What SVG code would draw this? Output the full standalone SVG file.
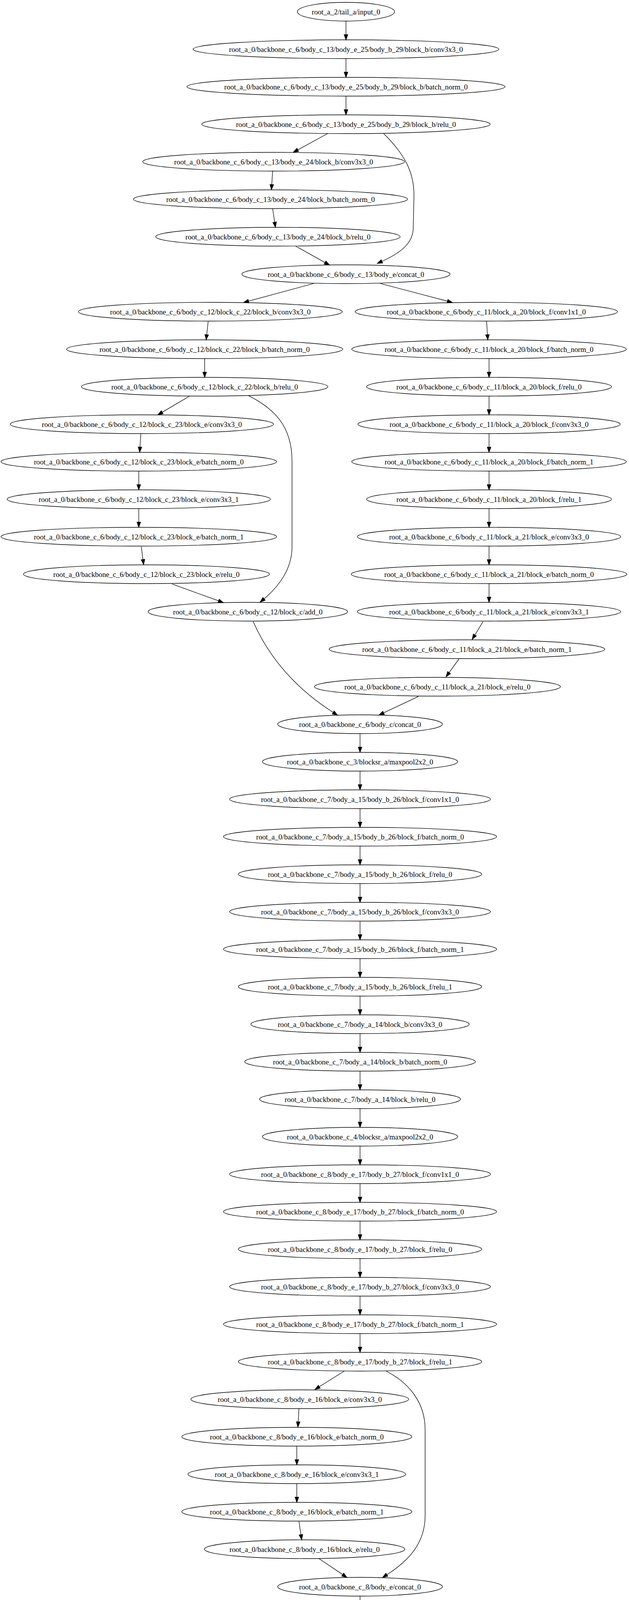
<svg xmlns="http://www.w3.org/2000/svg" width="1609" height="5147" viewBox="0 0 1609 5147">
<style>
.n ellipse{fill:none;stroke:#000;stroke-width:1.33}
.n text{font-family:"Liberation Serif","Times New Roman",serif;font-size:18.67px;text-anchor:middle;fill:#000}
.e path{fill:none;stroke:#000;stroke-width:1.33}
</style>
<defs>
<marker id="a" markerUnits="userSpaceOnUse" markerWidth="16" markerHeight="12" refX="0" refY="4.67" orient="auto" overflow="visible">
<path d="M0,0 L13.3,4.67 L0,9.33 Z" fill="#000" stroke="#000" stroke-width="1.33"/>
</marker>
</defs>
<rect width="1609" height="5147" fill="#fff"/>
<g id="edges" class="e">
<path d="M885,54 L885,88.7" marker-end="url(#a)"/>
<path d="M885,150 L885,184.7" marker-end="url(#a)"/>
<path d="M885,246 L885,280.7" marker-end="url(#a)"/>
<path d="M838,342 L761.7,383.6" marker-end="url(#a)"/>
<path d="M981.5,342 C1035,395 1059,440 1059,500 L1057,585 C1056,620 1030,645 977,669" marker-end="url(#a)"/>
<path d="M697.4,437 L695.2,472.4" marker-end="url(#a)"/>
<path d="M697.4,534 L702.6,568.8" marker-end="url(#a)"/>
<path d="M756,630 L831.4,672.1" marker-end="url(#a)"/>
<path d="M802.5,725.7 L635.7,770.9" marker-end="url(#a)"/>
<path d="M972.8,725.7 L1144.6,771" marker-end="url(#a)"/>
<path d="M532.6,822.2 L528.8,856.8" marker-end="url(#a)"/>
<path d="M1244.7,822.2 L1246.9,856.7" marker-end="url(#a)"/>
<path d="M523.5,918 L523.5,952.7" marker-end="url(#a)"/>
<path d="M1251,918 L1251,952.7" marker-end="url(#a)"/>
<path d="M484.4,1014.3 L414.9,1055.4" marker-end="url(#a)"/>
<path d="M635.2,1012.7 C700,1045 747,1090 747,1180 L747,1400 C747,1455 715,1500 675.5,1533" marker-end="url(#a)"/>
<path d="M360.3,1110.8 L358.1,1144.5" marker-end="url(#a)"/>
<path d="M1251,1014 L1251,1048.7" marker-end="url(#a)"/>
<path d="M1251,1110 L1251,1144.7" marker-end="url(#a)"/>
<path d="M355,1206 L355,1240.7" marker-end="url(#a)"/>
<path d="M1251,1206 L1251,1240.7" marker-end="url(#a)"/>
<path d="M355,1302 L355,1336.7" marker-end="url(#a)"/>
<path d="M1251,1302 L1251,1336.7" marker-end="url(#a)"/>
<path d="M361.3,1399.4 L365.7,1432.4" marker-end="url(#a)"/>
<path d="M1251,1398 L1251,1432.7" marker-end="url(#a)"/>
<path d="M440.3,1495 L559.1,1538.2" marker-end="url(#a)"/>
<path d="M1251,1494 L1251,1528.7" marker-end="url(#a)"/>
<path d="M1235.5,1591.5 L1214.7,1625.6" marker-end="url(#a)"/>
<path d="M647.5,1591 C700,1710 787,1782 852.3,1823.8" marker-end="url(#a)"/>
<path d="M1174,1687 L1148.8,1721.8" marker-end="url(#a)"/>
<path d="M1070.3,1782.8 L981.3,1824.9" marker-end="url(#a)"/>
<path d="M921,1878 L921,1912.7" marker-end="url(#a)"/>
<path d="M921,1974 L921,2008.7" marker-end="url(#a)"/>
<path d="M921,2070 L921,2104.7" marker-end="url(#a)"/>
<path d="M921,2166 L921,2200.7" marker-end="url(#a)"/>
<path d="M921,2262 L921,2296.7" marker-end="url(#a)"/>
<path d="M921,2358 L921,2392.7" marker-end="url(#a)"/>
<path d="M921,2454 L921,2488.7" marker-end="url(#a)"/>
<path d="M921,2550 L921,2584.7" marker-end="url(#a)"/>
<path d="M921,2646 L921,2680.7" marker-end="url(#a)"/>
<path d="M921,2742 L921,2776.7" marker-end="url(#a)"/>
<path d="M921,2838 L921,2872.7" marker-end="url(#a)"/>
<path d="M921,2934 L921,2968.7" marker-end="url(#a)"/>
<path d="M921,3030 L921,3064.7" marker-end="url(#a)"/>
<path d="M921,3126 L921,3160.7" marker-end="url(#a)"/>
<path d="M921,3222 L921,3256.7" marker-end="url(#a)"/>
<path d="M921,3318 L921,3352.7" marker-end="url(#a)"/>
<path d="M921,3414 L921,3448.7" marker-end="url(#a)"/>
<path d="M880.5,3510 L816.8,3550" marker-end="url(#a)"/>
<path d="M987.9,3510 C1046,3540 1087.5,3590 1087.5,3660 L1087.5,3880 C1087.5,3950 1046,3995 989.7,4031.3" marker-end="url(#a)"/>
<path d="M764.8,3605.5 L762.8,3639.9" marker-end="url(#a)"/>
<path d="M759.3,3702 L759.3,3736.7" marker-end="url(#a)"/>
<path d="M759.3,3798 L759.3,3832.7" marker-end="url(#a)"/>
<path d="M764.8,3895.2 L769.8,3928.8" marker-end="url(#a)"/>
<path d="M816,3990 L876.5,4030.9" marker-end="url(#a)"/>
<path d="M921,4086 L921,4120.7" marker-end="url(#a)"/>
<path d="M921,4182 L921,4216.7" marker-end="url(#a)"/>
<path d="M921,4278 L921,4312.7" marker-end="url(#a)"/>
<path d="M921,4374 L921,4408.7" marker-end="url(#a)"/>
<path d="M921,4470 L921,4504.7" marker-end="url(#a)"/>
<path d="M921,4566 L921,4600.7" marker-end="url(#a)"/>
<path d="M921,4662 L921,4696.7" marker-end="url(#a)"/>
<path d="M921,4758 L921,4792.7" marker-end="url(#a)"/>
<path d="M921,4854 L921,4888.7" marker-end="url(#a)"/>
<path d="M921,4950 L921,4984.7" marker-end="url(#a)"/>
<path d="M921,5046 L921,5080.7" marker-end="url(#a)"/>
</g>
<g id="n0" class="n"><ellipse cx="885" cy="30" rx="124.3" ry="24"/><text x="885" y="36.5">root_a_2/tail_a/input_0</text></g>
<g id="n1" class="n"><ellipse cx="885" cy="126" rx="391.1" ry="24"/><text x="885" y="132.5">root_a_0/backbone_c_6/body_c_13/body_e_25/body_b_29/block_b/conv3x3_0</text></g>
<g id="n2" class="n"><ellipse cx="885" cy="222" rx="406.8" ry="24"/><text x="885" y="228.5">root_a_0/backbone_c_6/body_c_13/body_e_25/body_b_29/block_b/batch_norm_0</text></g>
<g id="n3" class="n"><ellipse cx="885" cy="318" rx="368.9" ry="24"/><text x="885" y="324.5">root_a_0/backbone_c_6/body_c_13/body_e_25/body_b_29/block_b/relu_0</text></g>
<g id="n4" class="n"><ellipse cx="700" cy="414" rx="334.9" ry="24"/><text x="700" y="420.5">root_a_0/backbone_c_6/body_c_13/body_e_24/block_b/conv3x3_0</text></g>
<g id="n5" class="n"><ellipse cx="692" cy="510" rx="350.6" ry="24"/><text x="692" y="516.5">root_a_0/backbone_c_6/body_c_13/body_e_24/block_b/batch_norm_0</text></g>
<g id="n6" class="n"><ellipse cx="711" cy="606" rx="312.6" ry="24"/><text x="711" y="612.5">root_a_0/backbone_c_6/body_c_13/body_e_24/block_b/relu_0</text></g>
<g id="n7" class="n"><ellipse cx="885" cy="702" rx="266.2" ry="24"/><text x="885" y="708.5">root_a_0/backbone_c_6/body_c_13/body_e/concat_0</text></g>
<g id="n8" class="n"><ellipse cx="538" cy="798" rx="337.5" ry="24"/><text x="538" y="804.5">root_a_0/backbone_c_6/body_c_12/block_c_22/block_b/conv3x3_0</text></g>
<g id="n9" class="n"><ellipse cx="523.5" cy="894" rx="353.2" ry="24"/><text x="523.5" y="900.5">root_a_0/backbone_c_6/body_c_12/block_c_22/block_b/batch_norm_0</text></g>
<g id="n10" class="n"><ellipse cx="523.5" cy="990" rx="315.2" ry="24"/><text x="523.5" y="996.5">root_a_0/backbone_c_6/body_c_12/block_c_22/block_b/relu_0</text></g>
<g id="n11" class="n"><ellipse cx="363" cy="1086" rx="336.8" ry="24"/><text x="363" y="1092.5">root_a_0/backbone_c_6/body_c_12/block_c_23/block_e/conv3x3_0</text></g>
<g id="n12" class="n"><ellipse cx="355" cy="1182" rx="352.5" ry="24"/><text x="355" y="1188.5">root_a_0/backbone_c_6/body_c_12/block_c_23/block_e/batch_norm_0</text></g>
<g id="n13" class="n"><ellipse cx="355" cy="1278" rx="336.8" ry="24"/><text x="355" y="1284.5">root_a_0/backbone_c_6/body_c_12/block_c_23/block_e/conv3x3_1</text></g>
<g id="n14" class="n"><ellipse cx="355" cy="1374" rx="352.5" ry="24"/><text x="355" y="1380.5">root_a_0/backbone_c_6/body_c_12/block_c_23/block_e/batch_norm_1</text></g>
<g id="n15" class="n"><ellipse cx="374.6" cy="1470" rx="314.6" ry="24"/><text x="374.6" y="1476.5">root_a_0/backbone_c_6/body_c_12/block_c_23/block_e/relu_0</text></g>
<g id="n16" class="n"><ellipse cx="634" cy="1566" rx="255.1" ry="24"/><text x="634" y="1572.5">root_a_0/backbone_c_6/body_c_12/block_c/add_0</text></g>
<g id="n17" class="n"><ellipse cx="1244" cy="798" rx="335.5" ry="24"/><text x="1244" y="804.5">root_a_0/backbone_c_6/body_c_11/block_a_20/block_f/conv1x1_0</text></g>
<g id="n18" class="n"><ellipse cx="1251" cy="894" rx="351.2" ry="24"/><text x="1251" y="900.5">root_a_0/backbone_c_6/body_c_11/block_a_20/block_f/batch_norm_0</text></g>
<g id="n19" class="n"><ellipse cx="1251" cy="990" rx="313.3" ry="24"/><text x="1251" y="996.5">root_a_0/backbone_c_6/body_c_11/block_a_20/block_f/relu_0</text></g>
<g id="n20" class="n"><ellipse cx="1251" cy="1086" rx="335.5" ry="24"/><text x="1251" y="1092.5">root_a_0/backbone_c_6/body_c_11/block_a_20/block_f/conv3x3_0</text></g>
<g id="n21" class="n"><ellipse cx="1251" cy="1182" rx="351.2" ry="24"/><text x="1251" y="1188.5">root_a_0/backbone_c_6/body_c_11/block_a_20/block_f/batch_norm_1</text></g>
<g id="n22" class="n"><ellipse cx="1251" cy="1278" rx="313.3" ry="24"/><text x="1251" y="1284.5">root_a_0/backbone_c_6/body_c_11/block_a_20/block_f/relu_1</text></g>
<g id="n23" class="n"><ellipse cx="1251" cy="1374" rx="336.8" ry="24"/><text x="1251" y="1380.5">root_a_0/backbone_c_6/body_c_11/block_a_21/block_e/conv3x3_0</text></g>
<g id="n24" class="n"><ellipse cx="1251" cy="1470" rx="352.5" ry="24"/><text x="1251" y="1476.5">root_a_0/backbone_c_6/body_c_11/block_a_21/block_e/batch_norm_0</text></g>
<g id="n25" class="n"><ellipse cx="1251" cy="1566" rx="336.8" ry="24"/><text x="1251" y="1572.5">root_a_0/backbone_c_6/body_c_11/block_a_21/block_e/conv3x3_1</text></g>
<g id="n26" class="n"><ellipse cx="1194.5" cy="1662" rx="352.5" ry="24"/><text x="1194.5" y="1668.5">root_a_0/backbone_c_6/body_c_11/block_a_21/block_e/batch_norm_1</text></g>
<g id="n27" class="n"><ellipse cx="1119" cy="1758" rx="314.6" ry="24"/><text x="1119" y="1764.5">root_a_0/backbone_c_6/body_c_11/block_a_21/block_e/relu_0</text></g>
<g id="n28" class="n"><ellipse cx="921" cy="1854" rx="210.6" ry="24"/><text x="921" y="1860.5">root_a_0/backbone_c_6/body_c/concat_0</text></g>
<g id="n29" class="n"><ellipse cx="921" cy="1950" rx="249.8" ry="24"/><text x="921" y="1956.5">root_a_0/backbone_c_3/blocksr_a/maxpool2x2_0</text></g>
<g id="n30" class="n"><ellipse cx="921" cy="2046" rx="333.6" ry="24"/><text x="921" y="2052.5">root_a_0/backbone_c_7/body_a_15/body_b_26/block_f/conv1x1_0</text></g>
<g id="n31" class="n"><ellipse cx="921" cy="2142" rx="349.3" ry="24"/><text x="921" y="2148.5">root_a_0/backbone_c_7/body_a_15/body_b_26/block_f/batch_norm_0</text></g>
<g id="n32" class="n"><ellipse cx="921" cy="2238" rx="311.3" ry="24"/><text x="921" y="2244.5">root_a_0/backbone_c_7/body_a_15/body_b_26/block_f/relu_0</text></g>
<g id="n33" class="n"><ellipse cx="921" cy="2334" rx="333.6" ry="24"/><text x="921" y="2340.5">root_a_0/backbone_c_7/body_a_15/body_b_26/block_f/conv3x3_0</text></g>
<g id="n34" class="n"><ellipse cx="921" cy="2430" rx="349.3" ry="24"/><text x="921" y="2436.5">root_a_0/backbone_c_7/body_a_15/body_b_26/block_f/batch_norm_1</text></g>
<g id="n35" class="n"><ellipse cx="921" cy="2526" rx="311.3" ry="24"/><text x="921" y="2532.5">root_a_0/backbone_c_7/body_a_15/body_b_26/block_f/relu_1</text></g>
<g id="n36" class="n"><ellipse cx="921" cy="2622" rx="279.3" ry="24"/><text x="921" y="2628.5">root_a_0/backbone_c_7/body_a_14/block_b/conv3x3_0</text></g>
<g id="n37" class="n"><ellipse cx="921" cy="2718" rx="295" ry="24"/><text x="921" y="2724.5">root_a_0/backbone_c_7/body_a_14/block_b/batch_norm_0</text></g>
<g id="n38" class="n"><ellipse cx="921" cy="2814" rx="257" ry="24"/><text x="921" y="2820.5">root_a_0/backbone_c_7/body_a_14/block_b/relu_0</text></g>
<g id="n39" class="n"><ellipse cx="921" cy="2910" rx="249.8" ry="24"/><text x="921" y="2916.5">root_a_0/backbone_c_4/blocksr_a/maxpool2x2_0</text></g>
<g id="n40" class="n"><ellipse cx="921" cy="3006" rx="333.6" ry="24"/><text x="921" y="3012.5">root_a_0/backbone_c_8/body_e_17/body_b_27/block_f/conv1x1_0</text></g>
<g id="n41" class="n"><ellipse cx="921" cy="3102" rx="349.3" ry="24"/><text x="921" y="3108.5">root_a_0/backbone_c_8/body_e_17/body_b_27/block_f/batch_norm_0</text></g>
<g id="n42" class="n"><ellipse cx="921" cy="3198" rx="311.3" ry="24"/><text x="921" y="3204.5">root_a_0/backbone_c_8/body_e_17/body_b_27/block_f/relu_0</text></g>
<g id="n43" class="n"><ellipse cx="921" cy="3294" rx="333.6" ry="24"/><text x="921" y="3300.5">root_a_0/backbone_c_8/body_e_17/body_b_27/block_f/conv3x3_0</text></g>
<g id="n44" class="n"><ellipse cx="921" cy="3390" rx="349.3" ry="24"/><text x="921" y="3396.5">root_a_0/backbone_c_8/body_e_17/body_b_27/block_f/batch_norm_1</text></g>
<g id="n45" class="n"><ellipse cx="921" cy="3486" rx="311.3" ry="24"/><text x="921" y="3492.5">root_a_0/backbone_c_8/body_e_17/body_b_27/block_f/relu_1</text></g>
<g id="n46" class="n"><ellipse cx="766.9" cy="3582" rx="278.6" ry="24"/><text x="766.9" y="3588.5">root_a_0/backbone_c_8/body_e_16/block_e/conv3x3_0</text></g>
<g id="n47" class="n"><ellipse cx="759.3" cy="3678" rx="294.3" ry="24"/><text x="759.3" y="3684.5">root_a_0/backbone_c_8/body_e_16/block_e/batch_norm_0</text></g>
<g id="n48" class="n"><ellipse cx="759.3" cy="3774" rx="278.6" ry="24"/><text x="759.3" y="3780.5">root_a_0/backbone_c_8/body_e_16/block_e/conv3x3_1</text></g>
<g id="n49" class="n"><ellipse cx="759.3" cy="3870" rx="294.3" ry="24"/><text x="759.3" y="3876.5">root_a_0/backbone_c_8/body_e_16/block_e/batch_norm_1</text></g>
<g id="n50" class="n"><ellipse cx="779.2" cy="3966" rx="256.4" ry="24"/><text x="779.2" y="3972.5">root_a_0/backbone_c_8/body_e_16/block_e/relu_0</text></g>
<g id="n51" class="n"><ellipse cx="921" cy="4062" rx="210.6" ry="24"/><text x="921" y="4068.5">root_a_0/backbone_c_8/body_e/concat_0</text></g>
<g id="n52" class="n"><ellipse cx="921" cy="4158" rx="249.8" ry="24"/><text x="921" y="4164.5">root_a_0/backbone_c_5/blocksr_a/maxpool2x2_0</text></g>
<g id="n53" class="n"><ellipse cx="921" cy="4254" rx="335.5" ry="24"/><text x="921" y="4260.5">root_a_0/backbone_c_9/body_a_19/body_b_28/block_b/conv3x3_0</text></g>
<g id="n54" class="n"><ellipse cx="921" cy="4350" rx="351.2" ry="24"/><text x="921" y="4356.5">root_a_0/backbone_c_9/body_a_19/body_b_28/block_b/batch_norm_0</text></g>
<g id="n55" class="n"><ellipse cx="921" cy="4446" rx="313.3" ry="24"/><text x="921" y="4452.5">root_a_0/backbone_c_9/body_a_19/body_b_28/block_b/relu_0</text></g>
<g id="n56" class="n"><ellipse cx="921" cy="4542" rx="279.3" ry="24"/><text x="921" y="4548.5">root_a_0/backbone_c_9/body_a_18/block_b/conv3x3_0</text></g>
<g id="n57" class="n"><ellipse cx="921" cy="4638" rx="295" ry="24"/><text x="921" y="4644.5">root_a_0/backbone_c_9/body_a_18/block_b/batch_norm_0</text></g>
<g id="n58" class="n"><ellipse cx="921" cy="4734" rx="257" ry="24"/><text x="921" y="4740.5">root_a_0/backbone_c_9/body_a_18/block_b/relu_0</text></g>
<g id="n59" class="n"><ellipse cx="921" cy="4830" rx="228.2" ry="24"/><text x="921" y="4836.5">root_a_1/head_a_10/pool_b/globalavgpool_0</text></g>
<g id="n60" class="n"><ellipse cx="921" cy="4926" rx="137.3" ry="24"/><text x="921" y="4932.5">root_a_1/head_a/flatten_0</text></g>
<g id="n61" class="n"><ellipse cx="921" cy="5022" rx="133.4" ry="24"/><text x="921" y="5028.5">root_a_1/head_a/logits_0</text></g>
<g id="n62" class="n"><ellipse cx="921" cy="5118" rx="137.3" ry="24"/><text x="921" y="5124.5">root_a_1/head_a/output_0</text></g>
</svg>
